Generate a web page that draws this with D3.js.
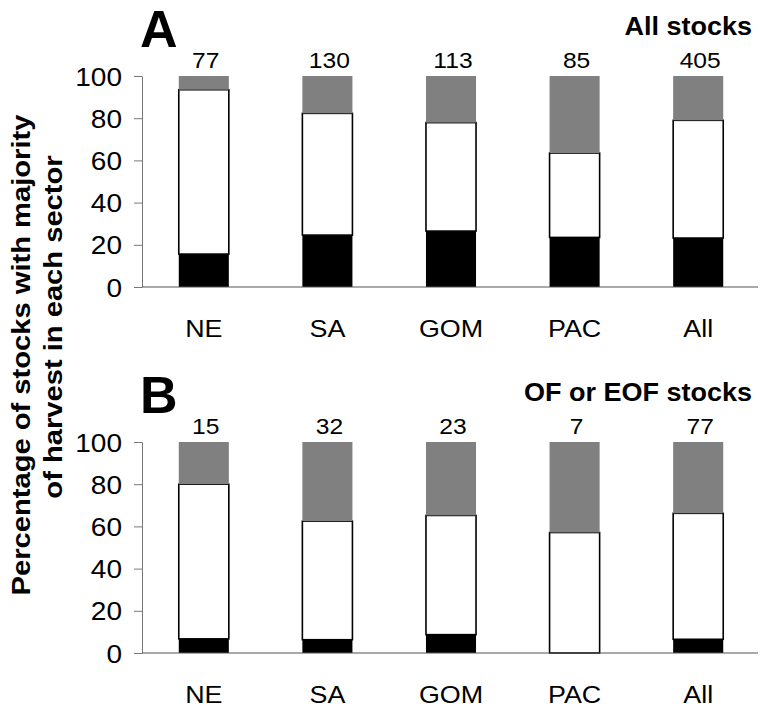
<!DOCTYPE html>
<html>
<head>
<meta charset="utf-8">
<script src="https://cdn.jsdelivr.net/npm/d3@7"></script>
<style>
  body { margin: 0; background: #fff; }
  svg text { font-family: "Liberation Sans", Arial, Helvetica, sans-serif; }
</style>
</head>
<body>
<svg id="chart" width="760" height="708"></svg>
<script>
// regions along the x axis
const categories = ['NE', 'SA', 'GOM', 'PAC', 'All'];
const yTicks = [0, 20, 40, 60, 80, 100];

// panel A: all stocks (percent of stocks per sector, bottom to top)
const countsA = [77, 130, 113, 85, 405];
const blackA = [15.6, 24.6, 26.5, 23.5, 23.2];
const whiteA = [77.9, 57.7, 51.4, 40.0, 55.8];
const greyA = [6.5, 17.7, 22.1, 36.5, 21.0];

// panel B: OF or EOF stocks
const countsB = [15, 32, 23, 7, 77];
const blackB = [6.7, 6.3, 8.7, 0, 6.5];
const whiteB = [73.3, 56.2, 56.5, 57.1, 59.7];
const greyB = [20.0, 37.5, 34.8, 42.9, 33.8];

const keys = ['black', 'white', 'grey'];
const fills = { black: '#000', white: '#fff', grey: '#808080' };

// the original type is a little wider than Liberation Sans
const stretch = 1.12;

const svg = d3.select('#chart');

const x = d3.scaleBand()
  .domain(categories)
  .range([142, 760])
  .paddingInner(0.595)
  .paddingOuter(0.2975);

const at = (px, py, sx = stretch) => `translate(${px},${py}) scale(${sx},1)`;

function drawPanel(letter, title, counts, black, white, grey, top, bottom) {
  const y = d3.scaleLinear().domain([0, 100]).range([bottom, top]);

  const rows = categories.map((c, i) => ({ cat: c, black: black[i], white: white[i], grey: grey[i] }));
  const stacked = d3.stack().keys(keys)(rows);

  const g = svg.append('g');

  // y axis with ticks only
  const yAxis = g.append('g')
    .attr('transform', 'translate(142,0)')
    .call(d3.axisLeft(y).tickValues(yTicks).tickSize(8).tickPadding(12).tickSizeOuter(0));
  yAxis.select('.domain').attr('stroke', '#777');
  yAxis.selectAll('.tick line').attr('stroke', '#777');
  yAxis.selectAll('.tick text')
    .attr('x', null).attr('dy', null)
    .attr('transform', at(-20, 9))
    .attr('font-size', 25).attr('fill', '#000');

  stacked.forEach(layer => {
    g.append('g')
      .selectAll('rect')
      .data(layer)
      .join('rect')
      .attr('x', d => x(d.data.cat))
      .attr('width', x.bandwidth())
      .attr('y', d => y(d[1]))
      .attr('height', d => y(d[0]) - y(d[1]))
      .attr('fill', fills[layer.key])
      .attr('stroke', layer.key === 'white' ? '#000' : 'none')
      .attr('stroke-width', 1.6);
  });

  // baseline
  g.append('line')
    .attr('x1', 142).attr('x2', 758)
    .attr('y1', y(0)).attr('y2', y(0))
    .attr('stroke', '#555').attr('stroke-width', 1.2);

  // category labels
  g.selectAll('.cat')
    .data(categories)
    .join('text')
    .attr('transform', d => at(x(d) + x.bandwidth() / 2, y(0) + 50))
    .attr('text-anchor', 'middle')
    .attr('font-size', 24)
    .text(d => d);

  // stock counts above bars
  g.selectAll('.count')
    .data(counts)
    .join('text')
    .attr('transform', (d, i) => at(x(categories[i]) + x.bandwidth() / 2 + 2, top - 8))
    .attr('text-anchor', 'middle')
    .attr('font-size', 22)
    .text(d => d);

  g.append('text')
    .attr('x', 140).attr('y', top - 29)
    .attr('font-size', 52).attr('font-weight', 'bold')
    .text(letter);

  g.append('text')
    .attr('transform', at(752, top - 41, 1.08))
    .attr('text-anchor', 'end')
    .attr('font-size', 25).attr('font-weight', 'bold')
    .text(title);
}

drawPanel('A', 'All stocks', countsA, blackA, whiteA, greyA, 76, 287);
drawPanel('B', 'OF or EOF stocks', countsB, blackB, whiteB, greyB, 442, 653);

// shared y axis title
const yTitle = ['Percentage of stocks with majority', 'of harvest in each sector'];
svg.selectAll('.ytitle')
  .data(yTitle)
  .join('text')
  .attr('transform', (d, i) => `translate(${i === 0 ? 30 : 62},${i === 0 ? 355 : 327}) rotate(-90) scale(1.1,1)`)
  .attr('text-anchor', 'middle')
  .attr('font-size', 26.5)
  .attr('font-weight', 'bold')
  .text(d => d);
</script>
</body>
</html>
